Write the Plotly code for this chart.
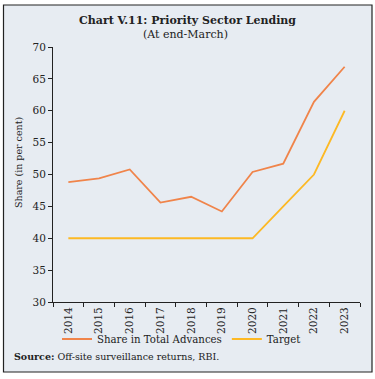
import plotly.graph_objects as go

years = ["2014", "2015", "2016", "2017", "2018", "2019", "2020", "2021", "2022", "2023"]
share_total_advances = [48.8, 49.4, 50.8, 45.6, 46.5, 44.2, 50.4, 51.7, 61.4, 66.9]
target = [40, 40, 40, 40, 40, 40, 40, 45, 50, 60]

BG = "#E7ECF2"
ORANGE = "#F0844A"
YELLOW = "#FDB924"
FONT = "DejaVu Serif"

W, H = 375, 379
L, R, T, B = 53, 15, 47, 77
pw, ph = W - L - R, H - T - B

def px(x):
    return (x - L) / pw

def py(y):
    return (H - B - y) / ph

fig = go.Figure()
fig.add_trace(go.Scatter(x=years, y=share_total_advances, mode="lines",
                         name="Share in Total Advances",
                         line=dict(color=ORANGE, width=1.8)))
fig.add_trace(go.Scatter(x=years, y=target, mode="lines", name="Target",
                         line=dict(color=YELLOW, width=1.8)))

# white outer strips and a dark frame
for (a, b, c, d) in [(0, 3.5, 0, H), (372, W, 0, H), (0, W, 0, 5), (0, W, 372, H)]:
    fig.add_shape(type="rect", xref="paper", yref="paper",
                  x0=px(a), x1=px(b), y0=py(d), y1=py(c),
                  line=dict(width=0), fillcolor="white", layer="above")
fig.add_shape(type="rect", xref="paper", yref="paper",
              x0=px(3.5), x1=px(372), y0=py(372), y1=py(5),
              line=dict(color="#222222", width=1.2), fillcolor="rgba(0,0,0,0)", layer="above")

fig.add_annotation(text="<b>Chart V.11: Priority Sector Lending</b>", xref="paper", yref="paper",
                   x=px(187), y=py(21), xanchor="center", yanchor="middle",
                   showarrow=False, font=dict(size=11, color="#222"))
fig.add_annotation(text="(At end-March)", xref="paper", yref="paper",
                   x=px(185), y=py(35), xanchor="center", yanchor="middle",
                   showarrow=False, font=dict(size=11, color="#222"))
fig.add_annotation(text="Share (in per cent)", xref="paper", yref="paper",
                   x=px(18), y=py(163), xanchor="center", yanchor="middle", textangle=-90,
                   showarrow=False, font=dict(size=9.5, color="#222"))
fig.add_annotation(text="<b>Source:</b> Off-site surveillance returns, RBI.", xref="paper", yref="paper",
                   x=px(12), y=py(356), xanchor="left", yanchor="middle", showarrow=False,
                   font=dict(size=9.5, color="#222"))

fig.update_layout(
    width=W, height=H,
    margin=dict(l=L, r=R, t=T, b=B),
    paper_bgcolor=BG, plot_bgcolor=BG,
    font=dict(family=FONT, size=10, color="#222"),
    showlegend=True,
    legend=dict(orientation="h", x=px(57), xanchor="left", y=py(339), yanchor="middle",
                bgcolor="rgba(0,0,0,0)", font=dict(size=10.2),
                tracegroupgap=0),
    xaxis=dict(type="category", tickson="boundaries", ticks="outside", ticklen=4,
               tickangle=-90, showgrid=False, showline=True, linecolor="#222",
               tickcolor="#222", linewidth=1, range=[-0.5, 9.5], zeroline=False,
               tickfont=dict(size=10.5)),
    yaxis=dict(range=[30, 70], dtick=5, ticks="outside", ticklen=4, showgrid=False,
               showline=True, linecolor="#222", tickcolor="#222", linewidth=1,
               zeroline=False, tickfont=dict(size=10.5)),
)

fig.write_html("out.html", config={"displayModeBar": False},
               post_script="document.body.style.margin='0px';")
